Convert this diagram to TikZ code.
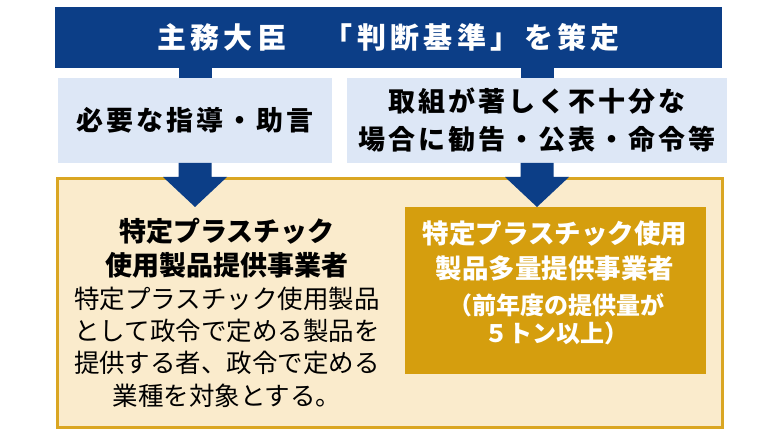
\documentclass[tikz,border=0pt]{standalone}
\usepackage{fontspec}
\setmainfont{Noto Sans CJK JP}
\usetikzlibrary{calc}

\definecolor{navyblue}{RGB}{12,62,135}
\definecolor{paleblue}{RGB}{221,231,246}
\definecolor{beige}{RGB}{250,235,204}
\definecolor{goldline}{RGB}{218,166,34}
\definecolor{goldfill}{RGB}{213,158,14}

\tikzset{
	panel/.style={inner sep=0pt, outer sep=0pt, align=center},
	bigtext/.style={font=\fontsize{29}{32}\selectfont\bfseries\addfontfeatures{LetterSpace=15}},
	steptext/.style={font=\fontsize{27}{38}\selectfont\bfseries\addfontfeatures{LetterSpace=11}},
	nametext/.style={align=center, inner sep=0pt, font=\fontsize{27}{34}\selectfont\bfseries},
	desctext/.style={align=center, inner sep=0pt, font=\fontsize{25.5}{32.3}\selectfont}}
\tikzset{every picture/.style={line width=0.75pt}}

% block arrow from a node anchor down to a tip point
\newcommand\blockarrow[2]{%
	\fill[navyblue] ($(#1)+(-16.5,0)$) -- ($(#1)+(16.5,0)$) -- ($(#2)+(16.5,-30)$) -- ($(#2)+(32,-30)$) -- (#2) -- ($(#2)+(-32,-30)$) -- ($(#2)+(-16.5,-30)$) -- cycle;}

\begin{document}
\begin{tikzpicture}[x=1pt,y=1pt,yscale=-1,xscale=1]
	\useasboundingbox[fill=white] (0,0) rectangle (780,438);

	%Shape: Rectangle [base]
	\node[panel, fill=beige, draw=goldline, line width=3pt, minimum width=665pt, minimum height=249pt] (base) at (390,303) {};
	%Shape: Rectangle [gold]
	\node[panel, fill=goldfill, minimum width=301pt, minimum height=167pt] (gold) at (555.5,290.5) {};

	%Shape: Rectangle [title]
	\node[panel, fill=navyblue, text=white, bigtext, minimum width=667pt, minimum height=61pt] (title) at (388.5,37.5) {主務大臣　「判断基準」を策定};
	%Shape: Rectangle [advice]
	\node[panel, fill=paleblue, steptext, minimum width=274pt, minimum height=85pt] (lb) at (195,120.5) {必要な指導・助言};
	%Shape: Rectangle [order]
	\node[panel, fill=paleblue, steptext, minimum width=380pt, minimum height=85pt] (rb) at (537,120.5) {取組が著しく不十分な\\場合に勧告・公表・命令等};

	% stubs
	\draw[navyblue, line width=33pt] (title.south -| lb.north) -- (lb.north);
	\draw[navyblue, line width=33pt] (title.south -| rb.north) -- (rb.north);

	%Right Arrow
	\coordinate (ltip) at (lb.south |- gold.north);
	\coordinate (rtip) at (rb.south |- gold.north);
	\blockarrow{lb.south}{ltip}
	\blockarrow{rb.south}{rtip}

	% Text Node
	\node[nametext] (leftname) at (227,248) {特定プラスチック\\使用製品提供事業者};
	% Text Node
	\node[desctext] (leftdesc) at (227,347) {特定プラスチック使用製品\\として政令で定める製品を\\提供する者、政令で定める\\業種を対象とする。};
	% Text Node
	\node[nametext, text=white, font=\fontsize{26.5}{35}\selectfont\bfseries] (goldname) at (555,250.5) {特定プラスチック使用\\製品多量提供事業者};
	% Text Node
	\node[nametext, text=white, font=\fontsize{24}{28}\selectfont\bfseries] (goldnote) at (556,319) {（前年度の提供量が\\５トン以上）};

\end{tikzpicture}
\end{document}
